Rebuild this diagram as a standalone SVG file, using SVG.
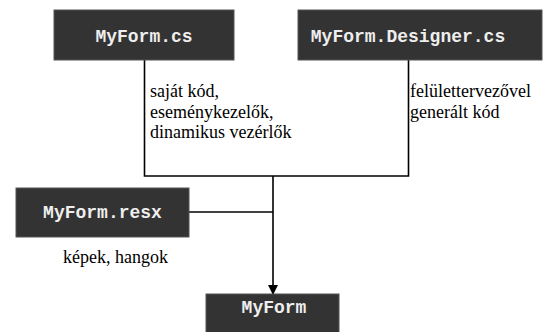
<svg xmlns="http://www.w3.org/2000/svg" width="544" height="332" viewBox="0 0 544 332">
<style>
.box{fill:#333333;stroke:#555555;stroke-width:1}
.code{font-family:"Liberation Mono","Courier New",monospace;font-weight:bold;font-size:18px;fill:#eeeeee;text-anchor:middle}
.lbl{font-family:"Liberation Serif","Times New Roman",serif;font-size:18px;fill:#000}
.ln{fill:none;stroke:#000;stroke-width:1.6}
</style>
<defs>
<marker id="arr" markerWidth="10" markerHeight="10" refX="9" refY="5" orient="auto" markerUnits="userSpaceOnUse">
<path d="M0,0 L10,5 L0,10 Z" fill="#000"/>
</marker>
</defs>
<rect width="544" height="332" fill="#fff"/>
<g id="connectors">
<polyline class="ln" points="144.5,60 144.5,176 408.5,176 408.5,60"/>
<polyline class="ln" points="189,212 273,212"/>
<line class="ln" x1="273" y1="176" x2="273" y2="294" marker-end="url(#arr)"/>
</g>
<g id="myform-cs">
<rect class="box" x="54" y="10" width="180" height="50"/>
<text class="code" x="144" y="42">MyForm.cs</text>
</g>
<g id="myform-designer">
<rect class="box" x="298" y="10" width="244" height="50"/>
<text class="code" x="408" y="42">MyForm.Designer.cs</text>
</g>
<g id="myform-resx">
<rect class="box" x="16" y="188" width="173" height="49"/>
<text class="code" x="102.5" y="218">MyForm.resx</text>
</g>
<g id="myform">
<rect class="box" x="206" y="294" width="133" height="50"/>
<text class="code" x="274" y="313">MyForm</text>
</g>
<g id="labels">
<text class="lbl" x="150" y="97">saját kód,</text>
<text class="lbl" x="150" y="117.5">eseménykezelők,</text>
<text class="lbl" x="150" y="138">dinamikus vezérlők</text>
<text class="lbl" x="410" y="97">felülettervezővel</text>
<text class="lbl" x="410" y="117.5">generált kód</text>
<text class="lbl" x="63" y="263">képek, hangok</text>
</g>
</svg>
